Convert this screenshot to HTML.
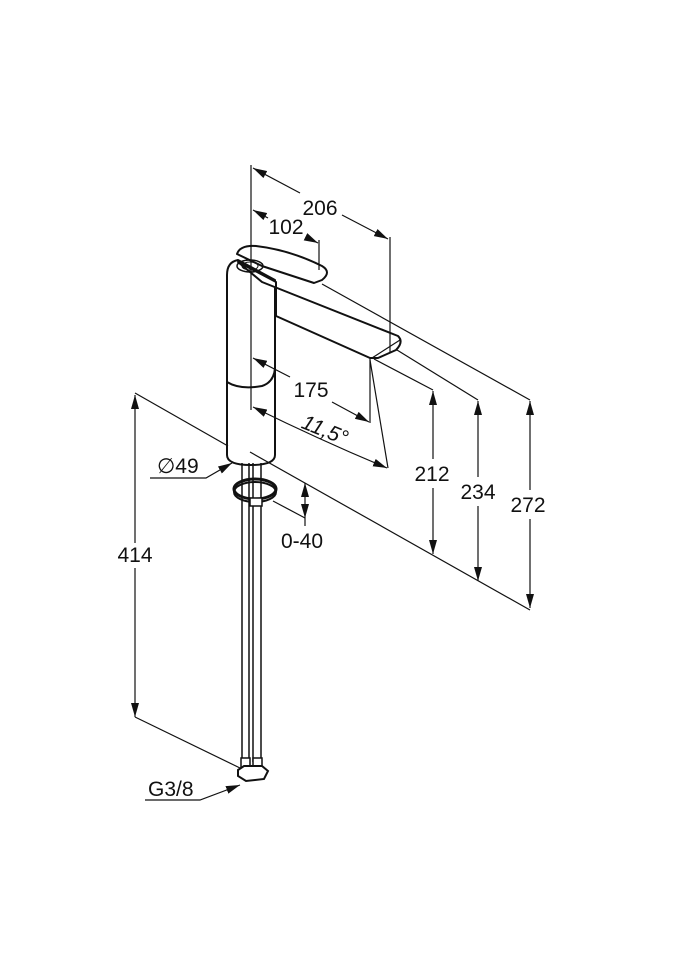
<!DOCTYPE html>
<html><head><meta charset="utf-8"><style>
html,body{margin:0;padding:0;background:#fff}
svg{display:block}
text{font-family:"Liberation Sans",sans-serif;font-size:21px;fill:#111}
</style></head><body>
<svg width="675" height="960" viewBox="0 0 675 960" xmlns="http://www.w3.org/2000/svg">
<defs>
<marker id="a" viewBox="0 0 14 8" refX="14" refY="4" markerWidth="14" markerHeight="8" markerUnits="userSpaceOnUse" orient="auto-start-reverse"><path d="M0,0 L14,4 L0,8 z" fill="#111"/></marker>
</defs>
<!-- faucet -->
<g stroke="#111" stroke-width="2" fill="#fff" stroke-linejoin="round">
<path d="M227,275 Q227,262 238,260 L275,280 L275,455 Q275,465 251,465 Q227,465 227,455 Z"/>
<path d="M227,382 Q240,390 262,386 Q274,382 275,368" fill="none"/>
<path d="M238,262 L262,282 L398,336 Q404,342 396,350 L378,358 L370,358 L276,316 L276,282 Z"/>
<path d="M237,254 Q240,245 256,246 Q290,250 322,266 Q332,272 322,280 L314,283 L262,266 Z"/>
<ellipse cx="250" cy="266" rx="13" ry="6" fill="none" stroke-width="1.5"/>
<ellipse cx="250" cy="266" rx="8" ry="4" fill="none" stroke-width="1"/>
<line x1="372" y1="358" x2="400" y2="340" stroke-width="1.2"/>
</g>
<g stroke="#111" stroke-width="1.5" fill="none">
<line x1="242" y1="463" x2="242" y2="762"/>
<line x1="249" y1="463" x2="249" y2="762"/>
<line x1="253" y1="463" x2="253" y2="762"/>
<line x1="261" y1="463" x2="261" y2="762"/>
<ellipse cx="255" cy="489" rx="21" ry="10" stroke-width="3"/>
<ellipse cx="255" cy="492" rx="21" ry="10" stroke-width="2"/>
<rect x="250" y="498" width="12" height="8" fill="#fff"/>
<rect x="241" y="758" width="9" height="10" fill="#fff"/>
<rect x="253" y="758" width="9" height="10" fill="#fff"/>
<path d="M238,770 L244,766 L262,766 L268,771 L264,779 L246,781 L238,776 Z" fill="#fff" stroke-width="2"/>
</g>
<g stroke="#111" stroke-width="1.2" fill="none">
<line x1="251" y1="165" x2="251" y2="410"/>
<line x1="319" y1="240" x2="319" y2="270"/>
<line x1="390" y1="237" x2="390" y2="352"/>
<line x1="253" y1="168" x2="300" y2="193" marker-start="url(#a)"/>
<line x1="342" y1="215" x2="388" y2="239" marker-end="url(#a)"/>
<line x1="253" y1="210" x2="268" y2="218" marker-start="url(#a)"/>
<line x1="306" y1="237" x2="318" y2="243" marker-end="url(#a)"/>
<line x1="253" y1="358" x2="290" y2="377" marker-start="url(#a)"/>
<line x1="332" y1="402" x2="369" y2="422" marker-end="url(#a)"/>
<line x1="370" y1="358" x2="370" y2="423"/>
<path d="M253,407 Q320,440 387,468" marker-start="url(#a)" marker-end="url(#a)"/>
<line x1="370" y1="360" x2="388" y2="468"/>
<line x1="374" y1="359" x2="433" y2="390"/>
<line x1="397" y1="350" x2="478" y2="400"/>
<line x1="322" y1="284" x2="530" y2="400"/>
<line x1="250" y1="452" x2="530" y2="610"/>
<line x1="433" y1="391" x2="433" y2="459" marker-start="url(#a)"/>
<line x1="433" y1="488" x2="433" y2="554" marker-end="url(#a)"/>
<line x1="478" y1="401" x2="478" y2="477" marker-start="url(#a)"/>
<line x1="478" y1="506" x2="478" y2="581" marker-end="url(#a)"/>
<line x1="530" y1="401" x2="530" y2="490" marker-start="url(#a)"/>
<line x1="530" y1="519" x2="530" y2="608" marker-end="url(#a)"/>
<line x1="273" y1="501" x2="305" y2="518"/>
<line x1="305" y1="483" x2="305" y2="518" marker-start="url(#a)" marker-end="url(#a)"/>
<line x1="305" y1="518" x2="305" y2="526"/>
<line x1="135" y1="393" x2="228" y2="446"/>
<line x1="135" y1="395" x2="135" y2="543" marker-start="url(#a)"/>
<line x1="135" y1="568" x2="135" y2="717" marker-end="url(#a)"/>
<line x1="135" y1="717" x2="240" y2="768"/>
<polyline points="150,478 206,478 232,463" marker-end="url(#a)"/>
<polyline points="145,800 200,800 240,785" marker-end="url(#a)"/>
</g>
<text x="320" y="215" text-anchor="middle">206</text>
<text x="286" y="234" text-anchor="middle">102</text>
<text x="311" y="397" text-anchor="middle">175</text>
<text x="325" y="437" text-anchor="middle" font-style="italic" transform="rotate(22 325 430)">11,5°</text>
<text x="432" y="481" text-anchor="middle">212</text>
<text x="478" y="499" text-anchor="middle">234</text>
<text x="528" y="512" text-anchor="middle">272</text>
<text x="302" y="548" text-anchor="middle">0-40</text>
<text x="135" y="562" text-anchor="middle">414</text>
<text x="157" y="473">∅49</text>
<text x="148" y="796">G3/8</text>
</svg>
</body></html>
